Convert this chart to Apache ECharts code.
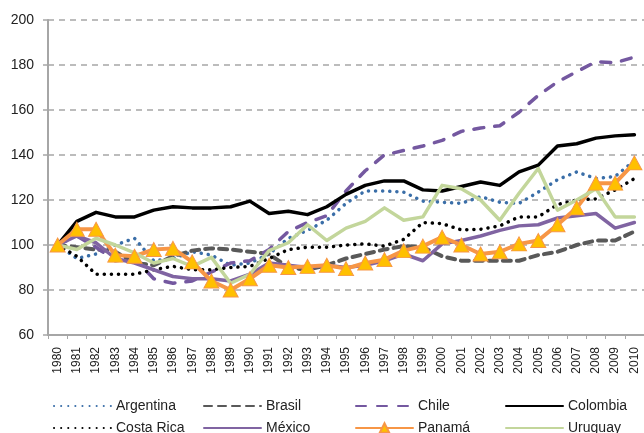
<!DOCTYPE html>
<html>
<head>
<meta charset="utf-8">
<script src="https://cdn.jsdelivr.net/npm/echarts@6/dist/echarts.min.js"></script>
<style>
  html, body { margin: 0; padding: 0; background: #fff; }
  #chart-container { width: 644px; height: 433px; }
</style>
</head>
<body>
<div id="chart-container"></div>
<script>
const years = [];
for (let y = 1980; y <= 2010; y++) years.push(String(y));

const argentina = [100, 94, 96, 100, 103, 93, 94, 97, 95.5, 91, 92, 96, 103, 106.5, 111, 118.5, 124, 124, 123.5, 119.5, 119, 118.5, 121.5, 119, 118.5, 123.5, 129, 132.5, 129.5, 130.5, 137.5];
const brasil = [100, 99, 98, 97, 92, 91, 95, 97.5, 98.5, 98, 97, 96, 90, 89, 91, 94, 96, 98, 99.5, 99, 95, 93, 93, 93, 93, 95.5, 97, 100, 102, 102, 106];
const chile = [100, 104, 99, 93, 94, 85, 83, 84, 88, 92, 93, 98, 106, 110, 113, 124, 133, 140, 142, 144, 146.5, 150.5, 152, 153, 159, 166.5, 172.5, 177, 181.5, 181, 183.5];
const colombia = [100, 110.5, 114.5, 112.5, 112.5, 115.5, 117, 116.5, 116.5, 117, 119.5, 114, 115, 113.5, 117, 122.5, 126.5, 128.5, 128.5, 124.5, 124, 126, 128, 126.5, 132.5, 135.5, 144, 145, 147.5, 148.5, 149];
const costaRica = [100, 95, 87, 87, 87, 89, 90.5, 89, 89, 90, 90.5, 94, 98, 99, 99, 100, 100.5, 99.5, 102.5, 110, 109.5, 106.7, 107, 108.5, 112.5, 112.5, 118, 120, 120.5, 124.5, 129.5];
const mexico = [100, 104, 101, 94, 92, 89, 86, 85, 85, 84, 87, 92, 91, 90, 91, 90, 91, 93, 96, 93, 100.5, 102, 104, 106.5, 108.5, 109, 112, 113, 114, 107.5, 110];
const panama = [100, 107, 107, 95.5, 95, 98, 98.5, 92.5, 84, 80, 85, 91, 90, 90.5, 91, 89.5, 92, 93.5, 97.5, 99.5, 103.5, 100, 96, 97, 100.5, 102, 109, 116.5, 127.5, 127.5, 136.5];
const uruguay = [100, 98, 103, 100, 96.5, 92, 94, 90.5, 94.5, 83, 87, 97.5, 101, 109, 102, 107.5, 110.5, 116.5, 111, 112.5, 126.5, 125, 120, 111, 123, 134, 115.5, 120, 125, 112.5, 112.5];

// legend layout: 2 rows x 4 columns, like the source figure
const legendRows = [['Argentina', 'Brasil', 'Chile', 'Colombia'], ['Costa Rica', 'México', 'Panamá', 'Uruguay']];
const legendCols = [53, 203, 355, 505];
const legendTops = [399, 421];

const font = '"Liberation Sans", Arial, sans-serif';

function line(name, data, color, width, type, extra) {
  return Object.assign({
    name: name,
    type: 'line',
    data: data,
    symbol: 'none',
    smooth: false,
    lineStyle: { color: color, width: width, type: type, cap: 'round', join: 'round' },
    itemStyle: { color: color },
    emphasis: { disabled: true }
  }, extra || {});
}

function buildLegends() {
  const out = [];
  legendRows.forEach((row, r) => {
    row.forEach((name, c) => {
      out.push({
        left: legendCols[c],
        top: legendTops[r],
        padding: 0,
        itemWidth: 57,
        itemHeight: 12,
        itemStyle: { opacity: name === 'Panamá' ? 1 : 0 },
        textStyle: { fontFamily: font, fontSize: 14, color: '#222' },
        data: [name]
      });
    });
  });
  return out;
}

const start = () => {
  const chartDom = document.getElementById('chart-container');
  const myChart = echarts.init(chartDom, null, { renderer: 'canvas' });
  const option = {
    animation: false,
    backgroundColor: '#fff',
    grid: { left: 48, top: 20, width: 599, bottom: 98 },
    legend: buildLegends(),
    xAxis: {
      type: 'category',
      data: years,
      boundaryGap: true,
      axisLine: { lineStyle: { color: '#a6a6a6', width: 2 } },
      axisTick: { show: true, length: 4, lineStyle: { color: '#a6a6a6', width: 1 } },
      axisLabel: { interval: 0, rotate: 90, fontFamily: font, fontSize: 12, color: '#222', margin: 12 }
    },
    yAxis: {
      type: 'value',
      min: 60,
      max: 200,
      interval: 20,
      axisLine: { show: true, lineStyle: { color: '#a6a6a6', width: 2 } },
      axisTick: { show: true, length: 5, lineStyle: { color: '#a6a6a6', width: 1.5 } },
      axisLabel: { fontFamily: font, fontSize: 14, color: '#222', margin: 14 },
      splitLine: { lineStyle: { color: '#a6a6a6', width: 1.5, type: [6, 5] } }
    },
    series: [
      line('Argentina', argentina, '#3a6ea8', 3.5, [0.1, 7]),
      line('Brasil', brasil, '#595959', 4, [8, 6]),
      line('Chile', chile, '#7458a0', 3.5, [10, 11]),
      line('Colombia', colombia, '#000000', 3.5, 'solid'),
      line('Costa Rica', costaRica, '#000000', 3.5, [0.1, 7]),
      line('México', mexico, '#8064a2', 3.5, 'solid'),
      line('Panamá', panama, '#f79646', 4, 'solid', {
        symbol: 'triangle',
        symbolSize: [15, 14],
        itemStyle: { color: '#ffc000', borderColor: '#f79646', borderWidth: 1 }
      }),
      line('Uruguay', uruguay, '#c3d69b', 3.5, 'solid')
    ]
  };
  myChart.setOption(option);
};

start();
</script>
</body>
</html>
